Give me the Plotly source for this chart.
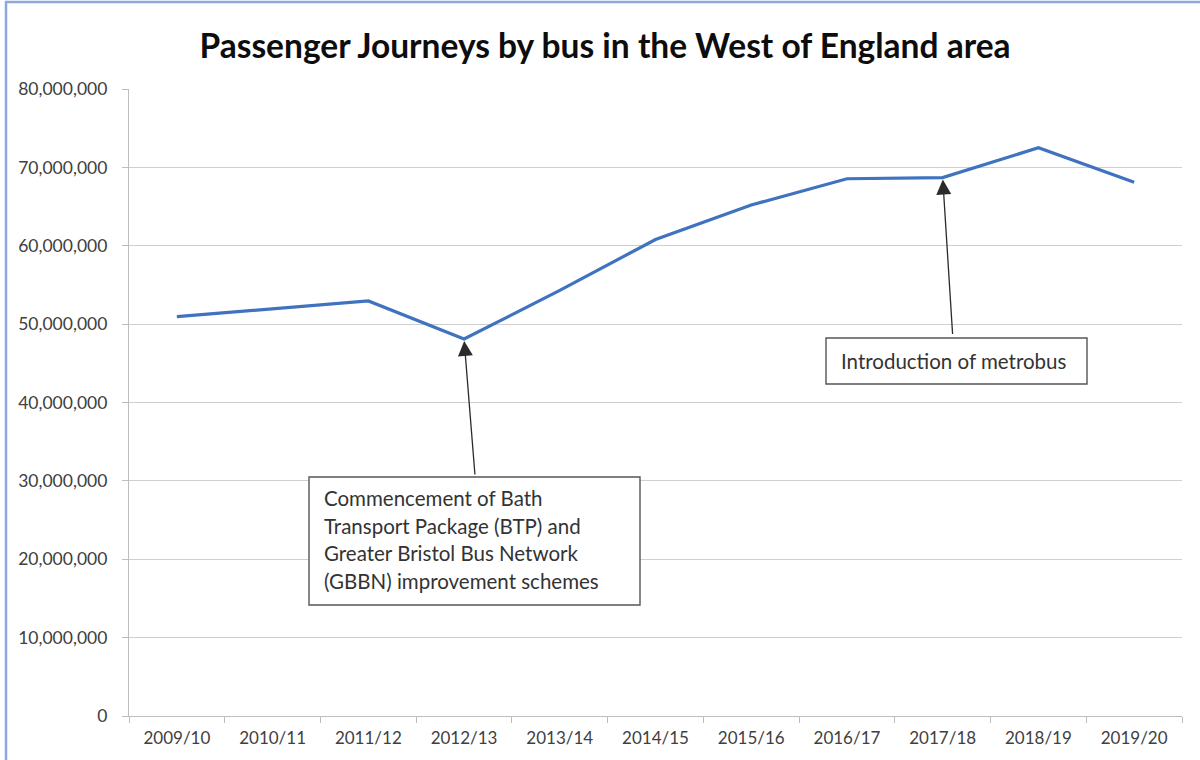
import plotly.graph_objects as go

# Annual bus passenger journeys, West of England
years = ["2009/10", "2010/11", "2011/12", "2012/13", "2013/14", "2014/15",
         "2015/16", "2016/17", "2017/18", "2018/19", "2019/20"]
journeys = [50_950_000, 52_000_000, 52_950_000, 48_100_000, 54_300_000,
            60_800_000, 65_200_000, 68_550_000, 68_700_000, 72_500_000,
            68_100_000]
y_ticks = [0, 10_000_000, 20_000_000, 30_000_000, 40_000_000,
           50_000_000, 60_000_000, 70_000_000, 80_000_000]

title_text = "Passenger Journeys by bus in the West of England area"
btp_lines = ["Commencement of Bath", "Transport Package (BTP) and",
             "Greater Bristol Bus Network", "(GBBN) improvement schemes"]
metro_text = "Introduction of metrobus"
btp_year, metro_year = "2012/13", "2017/18"

W, H = 1200, 760
ML, MR, MT, MB = 129, 18, 89, 44
PW, PH = W - ML - MR, H - MT - MB


def px(x):
    return (x - ML) / PW


def py(y):
    return (H - MB - y) / PH


FONT = "Lato"
TXT = "#333333"

fig = go.Figure()
fig.add_trace(go.Scatter(
    x=years, y=journeys, mode="lines",
    line=dict(color="#3f72bf", width=3.2),
    hoverinfo="x+y", showlegend=False,
))

shapes = [
    # outer chart frame
    dict(type="line", xref="paper", yref="paper", x0=px(6), x1=px(6),
         y0=py(1), y1=py(H + 5), line=dict(color="#8da8da", width=2.5)),
    dict(type="line", xref="paper", yref="paper", x0=px(5), x1=px(W + 5),
         y0=py(2), y1=py(2), line=dict(color="#8da8da", width=2.5)),
    # callout boxes
    dict(type="rect", xref="paper", yref="paper", x0=px(309), x1=px(640),
         y0=py(605), y1=py(477), fillcolor="white",
         line=dict(color="#555555", width=1.4), layer="above"),
    dict(type="rect", xref="paper", yref="paper", x0=px(826), x1=px(1087),
         y0=py(384), y1=py(338), fillcolor="white",
         line=dict(color="#555555", width=1.4), layer="above"),
]

annotations = []
for i, line in enumerate(btp_lines):
    annotations.append(dict(
        xref="paper", yref="paper", x=px(322), y=py(498 + i * 27.6),
        text=line, showarrow=False, xanchor="left", yanchor="middle",
        font=dict(family=FONT, size=20.5, color=TXT)))
annotations.append(dict(
    xref="paper", yref="paper", x=px(839), y=py(361), text=metro_text,
    showarrow=False, xanchor="left", yanchor="middle",
    font=dict(family=FONT, size=20.5, color=TXT)))

# arrows from the boxes to the data points
for yr, dx, dy in [(btp_year, 11, 137), (metro_year, 10, 158)]:
    annotations.append(dict(
        x=yr, y=journeys[years.index(yr)], xref="x", yref="y",
        text="", showarrow=True, ax=dx, ay=dy,
        arrowhead=2, arrowsize=2.3, arrowwidth=1.3, arrowcolor="#2b2b2b",
        standoff=2))

fig.update_layout(
    width=W, height=H,
    margin=dict(l=ML, r=MR, t=MT, b=MB),
    paper_bgcolor="white", plot_bgcolor="white",
    title=dict(text=f"<b>{title_text}</b>", x=605 / W, xref="container",
               xanchor="center", y=1 - 46 / H, yref="container",
               yanchor="middle",
               font=dict(family=FONT, size=33.5, color="#0d0d0d")),
    shapes=shapes, annotations=annotations,
    font=dict(family=FONT),
)
fig.update_xaxes(
    type="category", range=[-0.5, len(years) - 0.5],
    showgrid=False, showline=True, linecolor="#bdbdbd", linewidth=1.3,
    ticks="outside", tickson="boundaries", ticklen=6, tickcolor="#bdbdbd",
    tickfont=dict(family=FONT, size=17, color="#404040"),
    ticklabelstandoff=6,
)
fig.update_yaxes(
    range=[0, 80_000_000], tickvals=y_ticks,
    ticktext=[f"{v:,}" for v in y_ticks],
    showgrid=True, gridcolor="#cfcfcf", gridwidth=1.3,
    showline=True, linecolor="#bdbdbd", linewidth=1.3,
    ticks="outside", ticklen=6, tickcolor="#bdbdbd",
    tickfont=dict(family=FONT, size=17.5, color="#404040"),
    ticklabelstandoff=11, zeroline=False,
)

fig.write_html("out.html")
